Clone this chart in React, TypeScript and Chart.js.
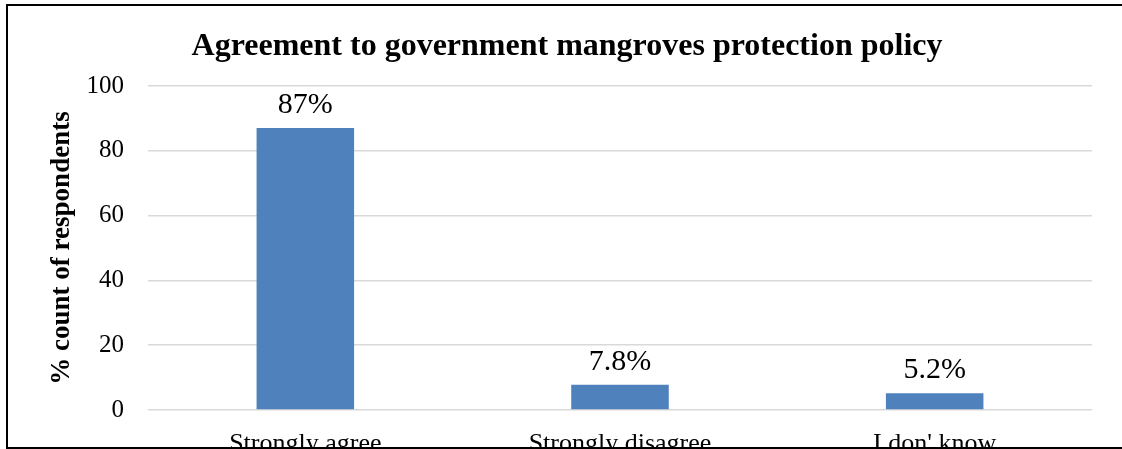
import React, { useEffect, useRef } from "react";
import { Chart, registerables } from "chart.js";

Chart.register(...registerables);

const categories = ["Strongly agree", "Strongly disagree", "I don' know"];
const values = [87, 7.8, 5.2];
const valueLabels = ["87%", "7.8%", "5.2%"];
const yTicks = [0, 20, 40, 60, 80, 100];
const chartTitle = "Agreement to government mangroves protection policy";
const yTitle = "% count of respondents";

const SERIF = "'Liberation Serif', 'Times New Roman', Times, serif";

const overlayPlugin = {
  id: "overlay",
  afterDatasetsDraw(chart: any) {
    const ctx = chart.ctx;
    const meta = chart.getDatasetMeta(0);
    ctx.save();
    ctx.fillStyle = "#000";
    ctx.textAlign = "center";
    ctx.textBaseline = "alphabetic";
    ctx.font = `30px ${SERIF}`;
    meta.data.forEach((bar: any, i: number) => {
      ctx.fillText(valueLabels[i], bar.x, bar.y - 15);
    });
    ctx.font = `bold 32px ${SERIF}`;
    ctx.fillText(chartTitle, 567, 55);
    ctx.restore();
  },
  afterDraw(chart: any) {
    const ctx = chart.ctx;
    ctx.save();
    ctx.strokeStyle = "#000";
    ctx.lineWidth = 2;
    ctx.beginPath();
    ctx.moveTo(7, 449);
    ctx.lineTo(7, 5);
    ctx.lineTo(1134, 5);
    ctx.moveTo(6, 448);
    ctx.lineTo(1134, 448);
    ctx.stroke();
    ctx.restore();
  },
};

export default function App() {
  const ref = useRef<HTMLCanvasElement>(null);
  useEffect(() => {
    if (!ref.current) return;
    const chart = new Chart(ref.current, {
      type: "bar",
      data: {
        labels: categories,
        datasets: [
          {
            data: values,
            backgroundColor: "#4F81BD",
            borderWidth: 0,
            categoryPercentage: 1,
            barPercentage: 0.31,
          },
        ],
      },
      options: {
        responsive: false,
        maintainAspectRatio: false,
        animation: false,
        devicePixelRatio: 1,
        layout: { padding: { left: 7, top: 86, right: 42, bottom: 10 } },
        plugins: {
          legend: { display: false },
          title: { display: false },
          tooltip: { enabled: false },
        },
        scales: {
          x: {
            grid: { display: false },
            border: { display: false },
            ticks: {
              color: "#000",
              padding: 11,
              font: { family: SERIF, size: 26 },
            },
            afterFit: (s: any) => {
              s.height = 50;
            },
          },
          y: {
            min: yTicks[0],
            max: yTicks[yTicks.length - 1],
            afterBuildTicks: (s: any) => {
              s.ticks = yTicks.map((v) => ({ value: v }));
            },
            grid: { color: "#d9d9d9", lineWidth: 1.5, drawTicks: false },
            border: { display: false },
            ticks: {
              color: "#000",
              padding: 24,
              font: { family: SERIF, size: 25 },
            },
            title: {
              display: true,
              text: yTitle,
              color: "#000",
              font: { family: SERIF, size: 27, weight: "bold" },
              padding: { top: 39, bottom: 0 },
            },
            afterFit: (s: any) => {
              s.width = 141;
            },
          },
        },
      },
      plugins: [overlayPlugin],
    });
    return () => chart.destroy();
  }, []);
  return (
    <div
      style={{
        position: "absolute",
        left: 0,
        top: 0,
        width: 1122,
        height: 449,
        overflow: "hidden",
        background: "#fff",
      }}
    >
      <canvas ref={ref} width={1134} height={470} style={{ width: 1134, height: 470, display: "block" }} />
    </div>
  );
}
